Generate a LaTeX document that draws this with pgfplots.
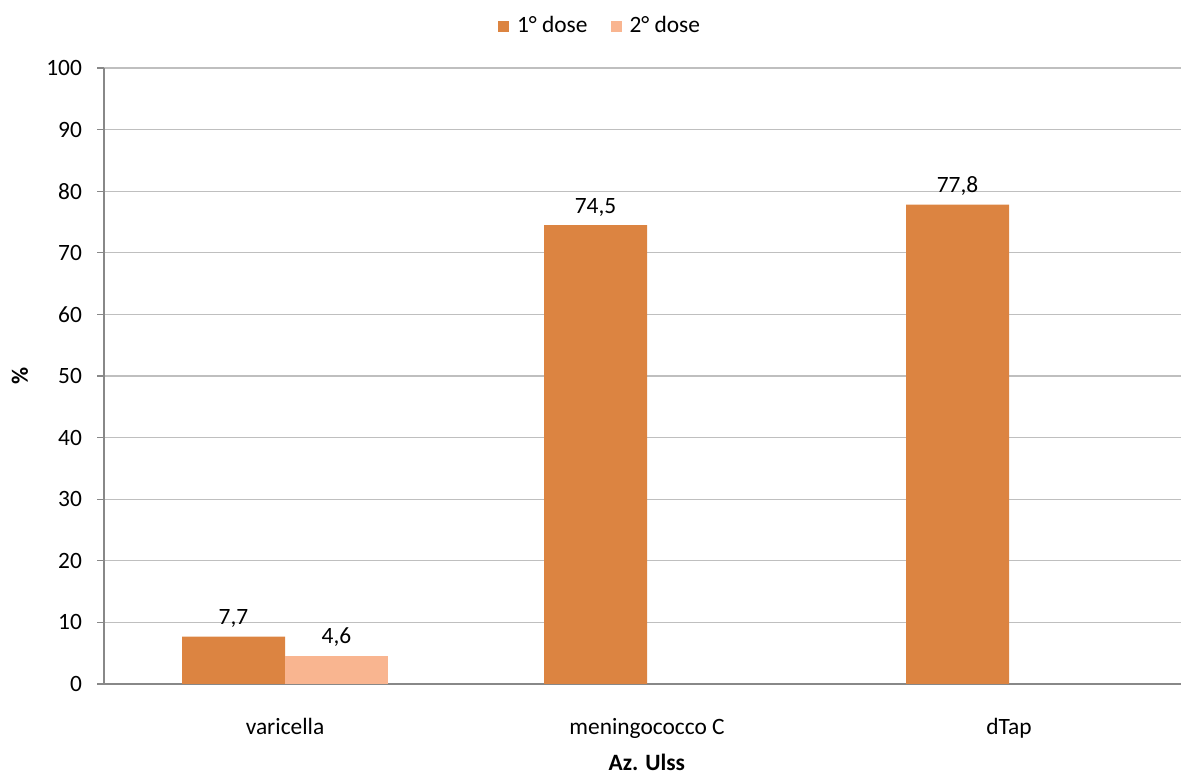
\documentclass[border=0pt]{standalone}
\usepackage{pgfplots}
\pgfplotsset{compat=1.18}
\usepackage{fontspec}
\setmainfont{Carlito}
\definecolor{dose1}{HTML}{DC8441}
\definecolor{dose2}{HTML}{F9B590}
\definecolor{gridc}{HTML}{BFBFBF}
\definecolor{axc}{HTML}{888888}
\begin{document}
\begin{tikzpicture}[font=\fontsize{11.7pt}{13pt}\selectfont]
\useasboundingbox (0,0) rectangle (590.5pt,387pt);
\begin{axis}[
  at={(52pt,45pt)}, anchor=south west,
  scale only axis, width=538.5pt, height=308pt,
  ybar=0pt, bar width=51.5pt,
  xmin=-0.5, xmax=2.475, ymin=0, ymax=100,
  axis x line*=bottom, axis y line*=left,
  axis line style={axc, line width=0.8pt},
  xtick={0,1,2}, xticklabels={varicella, meningococco C, dTap},
  major x tick style={draw=none},
  extra x ticks={-0.5,0.5,1.5}, extra x tick labels={},
  extra x tick style={grid=none, major tick length=3.5pt, tick align=outside, tick style={axc, line width=0.6pt}},
  ytick={0,10,...,100},
  ymajorgrids, grid style={gridc, line width=0.6pt},
  y tick style={axc, line width=0.6pt}, tick align=outside, major tick length=3.5pt,
  /pgf/number format/assume math mode=true,
  yticklabel style={xshift=-4pt},
  xticklabel style={yshift=-10pt},
  ylabel={\textbf{\%}}, ylabel style={at={(axis description cs:-0.078,0.5)}, anchor=center},
  xlabel={\textbf{Az. Ulss}}, xlabel style={at={(axis description cs:0.504,-0.128)}, anchor=center},
  nodes near coords={\pgfmathprintnumber[use comma,fixed,fixed zerofill,precision=1]{\pgfplotspointmeta}},
  nodes near coords style={font=\fontsize{11.7pt}{13pt}\selectfont, /pgf/number format/assume math mode=true, yshift=1pt},
  legend style={at={(0.4615,1.068)}, anchor=center, draw=none, legend columns=2, column sep=0pt,
    /tikz/every odd column/.append style={column sep=2pt},
    /tikz/every even column/.append style={column sep=9.5pt},
    font=\fontsize{11.7pt}{13pt}\selectfont},
  legend image code/.code={\fill[#1] (0pt,-2.75pt) rectangle (5.5pt,2.75pt);},
]
\addplot[fill=dose1, draw=none] coordinates {(0,7.7) (1,74.5) (2,77.8)};
\addplot[fill=dose2, draw=none] coordinates {(0,4.6)};
\legend{1° dose, 2° dose}
\end{axis}
\end{tikzpicture}
\end{document}
